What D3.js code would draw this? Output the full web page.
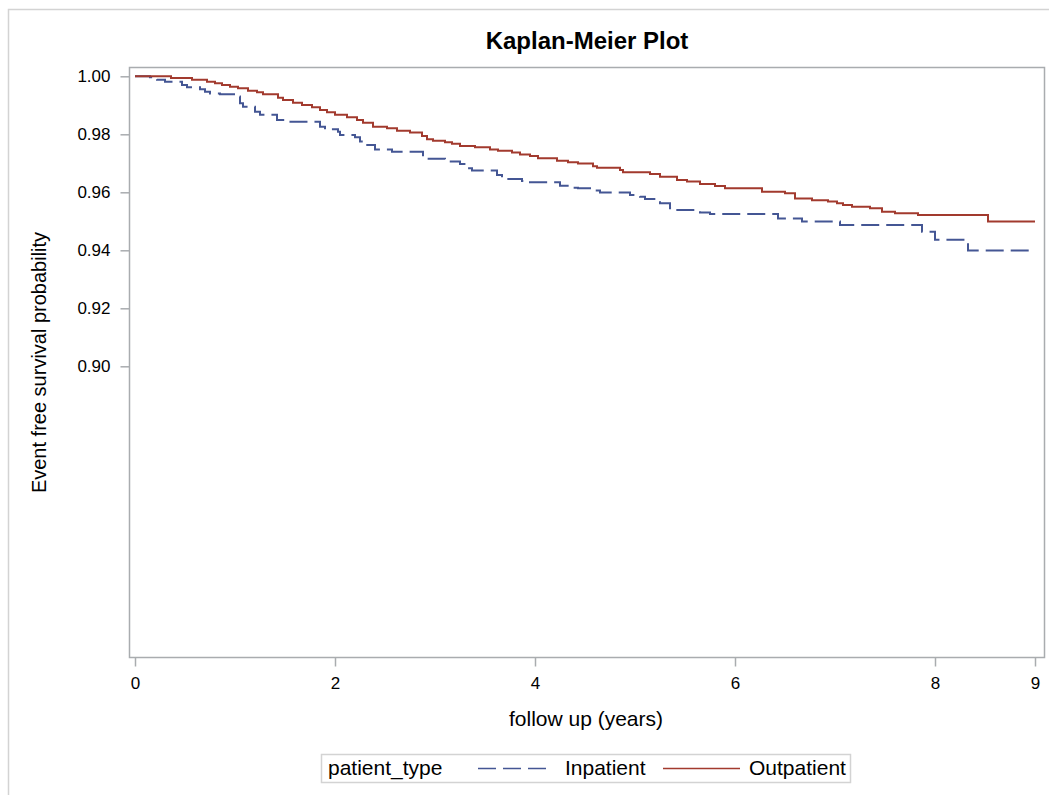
<!DOCTYPE html>
<html>
<head>
<meta charset="utf-8">
<script src="https://cdn.jsdelivr.net/npm/d3@7"></script>
<style>
  body { margin: 0; background: #fff; }
  svg text { font-family: 'Liberation Sans', Arial, sans-serif; fill: #000; }
</style>
</head>
<body>
<div id="chart"></div>
<script>
// Kaplan-Meier step values (time in years, survival)
const inpatientTime = [0, 0.15, 0.22, 0.30, 0.47, 0.52, 0.65, 0.70, 0.75, 0.85, 1.03, 1.05, 1.08, 1.20, 1.25, 1.42, 1.50, 1.85, 1.90, 2.03, 2.05, 2.20, 2.25, 2.31, 2.40, 2.57, 2.88, 3.10, 3.25, 3.32, 3.37, 3.62, 3.67, 3.87, 3.95, 4.25, 4.35, 4.43, 4.55, 4.65, 4.95, 5.05, 5.10, 5.25, 5.35, 5.40, 5.65, 5.75, 6.43, 6.67, 7.05, 7.87, 8.00, 8.33, 9.00];
const inpatientSurv = [1.0, 0.9997, 0.9988, 0.9981, 0.997, 0.9962, 0.9955, 0.9947, 0.9941, 0.9938, 0.993, 0.9907, 0.9895, 0.9878, 0.9867, 0.9849, 0.9843, 0.9826, 0.9817, 0.9809, 0.9798, 0.979, 0.9775, 0.9763, 0.9748, 0.974, 0.9716, 0.9706, 0.9698, 0.9683, 0.9675, 0.966, 0.9646, 0.9639, 0.9635, 0.9623, 0.9616, 0.9614, 0.9606, 0.9599, 0.9591, 0.9585, 0.9577, 0.9562, 0.9545, 0.9539, 0.953, 0.9525, 0.951, 0.9499, 0.9487, 0.9464, 0.9436, 0.9399, 0.9399];

const outpatientTime = [0, 0.36, 0.57, 0.72, 0.80, 0.87, 0.95, 1.03, 1.13, 1.22, 1.28, 1.43, 1.48, 1.58, 1.67, 1.77, 1.85, 1.92, 2.00, 2.12, 2.22, 2.28, 2.38, 2.52, 2.62, 2.75, 2.87, 2.92, 2.98, 3.10, 3.17, 3.25, 3.40, 3.55, 3.63, 3.77, 3.85, 3.95, 4.03, 4.22, 4.33, 4.43, 4.58, 4.62, 4.85, 4.88, 5.15, 5.25, 5.42, 5.52, 5.65, 5.80, 5.90, 6.27, 6.50, 6.60, 6.77, 6.93, 7.02, 7.08, 7.17, 7.35, 7.47, 7.60, 7.83, 8.53, 9.00];
const outpatientSurv = [1.0, 0.9994, 0.9988, 0.9981, 0.9976, 0.997, 0.9964, 0.9959, 0.995, 0.9945, 0.9938, 0.9926, 0.9918, 0.9909, 0.9901, 0.9893, 0.9884, 0.9876, 0.9867, 0.9859, 0.9849, 0.984, 0.9826, 0.9821, 0.9812, 0.9806, 0.9794, 0.9783, 0.9778, 0.9773, 0.9767, 0.976, 0.9755, 0.9748, 0.9743, 0.9737, 0.973, 0.9725, 0.9717, 0.9709, 0.9704, 0.9699, 0.969, 0.9685, 0.9677, 0.9669, 0.9663, 0.9654, 0.9642, 0.9637, 0.9629, 0.9622, 0.9614, 0.9602, 0.9597, 0.9579, 0.9573, 0.9568, 0.9562, 0.9556, 0.955, 0.9545, 0.9533, 0.9528, 0.9522, 0.9499, 0.9499];

const xTicks = [0, 2, 4, 6, 8, 9];
const yTicks = [0.90, 0.92, 0.94, 0.96, 0.98, 1.00];
const groupNames = ['Inpatient', 'Outpatient'];

const width = 1049;
const height = 795;
const plot = { l: 129.5, r: 1044.5, t: 67.5, b: 657.5 };

const svg = d3
  .select('#chart')
  .append('svg')
  .attr('width', width)
  .attr('height', height);

// outer frame (only top/left visible in the picture)
svg
  .append('path')
  .attr('d', `M8.5,${height} V9.5 H${width}`)
  .attr('fill', 'none')
  .attr('stroke', '#d3d3d3')
  .attr('stroke-width', 1.5);

const x = d3.scaleLinear().domain([0, 9]).range([135, 1035]);
const y = d3.scaleLinear().domain([0.8, 1.0]).range([656.3, 76.3]);

// plot frame
svg
  .append('rect')
  .attr('x', plot.l)
  .attr('y', plot.t)
  .attr('width', plot.r - plot.l)
  .attr('height', plot.b - plot.t)
  .attr('fill', 'none')
  .attr('stroke', '#a9acaf')
  .attr('stroke-width', 1.5);

// axes
const xAxis = svg
  .append('g')
  .attr('transform', `translate(0, ${plot.b})`)
  .call(d3.axisBottom(x).tickValues(xTicks).tickFormat(d3.format('d')).tickSize(9).tickPadding(10));

const yAxis = svg
  .append('g')
  .attr('transform', `translate(${plot.l}, 0)`)
  .call(d3.axisLeft(y).tickValues(yTicks).tickFormat(d3.format('.2f')).tickSize(9).tickPadding(10));

[xAxis, yAxis].forEach((g) => {
  g.select('.domain').remove();
  g.selectAll('.tick line').attr('stroke', '#a9acaf').attr('stroke-width', 1.5);
  g.selectAll('.tick text')
    .attr('font-size', 17)
    .style('font-family', "'Liberation Sans', Arial, sans-serif")
    .attr('fill', '#222');
});

// curves
const series = [
  { name: groupNames[0], time: inpatientTime, surv: inpatientSurv, color: '#445694', dash: '18,7' },
  { name: groupNames[1], time: outpatientTime, surv: outpatientSurv, color: '#A23A2E', dash: null },
];

const line = d3
  .line()
  .x((d) => x(d[0]))
  .y((d) => y(d[1]))
  .curve(d3.curveStepAfter);

series.forEach((s) => {
  svg
    .append('path')
    .datum(d3.zip(s.time, s.surv))
    .attr('d', line)
    .attr('fill', 'none')
    .attr('stroke', s.color)
    .attr('stroke-width', 2)
    .attr('stroke-dasharray', s.dash);
});

// title and axis labels
const cx = (plot.l + plot.r) / 2;
svg
  .append('text')
  .attr('x', cx)
  .attr('y', 49)
  .attr('text-anchor', 'middle')
  .attr('font-size', 24)
  .attr('font-weight', 'bold')
  .text('Kaplan-Meier Plot');

svg
  .append('text')
  .attr('transform', `translate(46, ${(plot.t + plot.b) / 2}) rotate(-90)`)
  .attr('text-anchor', 'middle')
  .attr('font-size', 20)
  .attr('fill', '#222')
  .text('Event free survival probability');

svg
  .append('text')
  .attr('x', cx - 1)
  .attr('y', 726)
  .attr('text-anchor', 'middle')
  .attr('font-size', 21)
  .attr('fill', '#222')
  .text('follow up (years)');

// legend
const legend = svg.append('g');
legend
  .append('rect')
  .attr('x', 321.5)
  .attr('y', 754.5)
  .attr('width', 529)
  .attr('height', 28)
  .attr('fill', 'none')
  .attr('stroke', '#d3d3d3')
  .attr('stroke-width', 1.5);

legend
  .append('text')
  .attr('x', 328)
  .attr('y', 775)
  .attr('font-size', 21)
  .attr('fill', '#222')
  .text('patient_type');

const legendItems = [
  { x0: 478, x1: 546, tx: 565 },
  { x0: 663, x1: 740, tx: 749 },
];
legendItems.forEach((it, i) => {
  const s = series[i];
  legend
    .append('line')
    .attr('x1', it.x0)
    .attr('x2', it.x1)
    .attr('y1', 768.5)
    .attr('y2', 768.5)
    .attr('stroke', s.color)
    .attr('stroke-width', 1.5)
    .attr('stroke-dasharray', s.dash);
  legend
    .append('text')
    .attr('x', it.tx)
    .attr('y', 775)
    .attr('font-size', 21)
    .attr('fill', '#222')
    .text(s.name);
});
</script>
</body>
</html>
